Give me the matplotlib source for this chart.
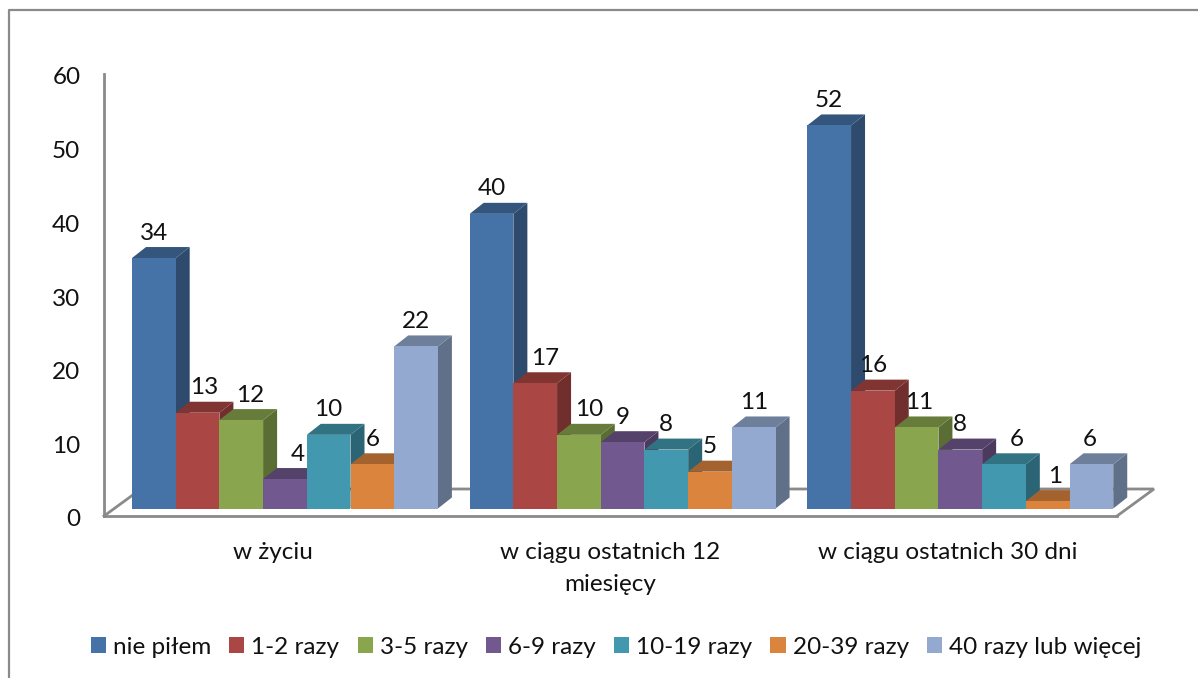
import numpy as np
import matplotlib
matplotlib.use('Agg')
import matplotlib.pyplot as plt
from matplotlib.patches import Patch, Polygon
from matplotlib.lines import Line2D
from matplotlib.colors import to_rgb
from matplotlib.transforms import ScaledTranslation

plt.rcParams['font.family'] = ['Lato', 'DejaVu Sans']

categories = ['w życiu', 'w ciągu ostatnich 12\nmiesięcy', 'w ciągu ostatnich 30 dni']
series_names = ['nie piłem', '1-2 razy', '3-5 razy', '6-9 razy', '10-19 razy', '20-39 razy', '40 razy lub więcej']
values = [
    [34, 13, 12, 4, 10, 6, 22],
    [40, 17, 10, 9, 8, 5, 11],
    [52, 16, 11, 8, 6, 1, 6],
]
y_ticks = [0, 10, 20, 30, 40, 50, 60]
colors = ['#4572A7', '#AA4643', '#89A54E', '#71588F', '#4198AF', '#DB843D', '#93A9CF']

W, H = 1198, 678
AX_L, AX_R, AX_T, AX_B = 104, 1117, 74, 516
GRAY = '#8a8a8a'
FS = 17.5

# pixels per data unit
px_x = (AX_R - AX_L) / 3
px_y = (AX_B - AX_T) / 60

bar_w = 43.7 / px_x
bar_start = 28 / px_x   # front face of the first bar, from the category edge
bar_base = 7.5 / px_y   # front face sits a little behind the axis line
top_dx, top_dy = 14 / px_x, 11 / px_y
floor_dx, floor_dy = 37 / px_x, 27 / px_y

# sideways shift of some value labels, px (labels dodge the neighbouring bar)
label_nudge = [
    [0, 7, 9, 13, 0, 0, 0],
    [0, 10, 10, 0, 0, 0, 0],
    [0, 0, 3, 0, 13, 7, -2],
]


def shade(color, f):
    return tuple(c * f for c in to_rgb(color))


fig = plt.figure(figsize=(W / 100, H / 100), dpi=100)
ax = fig.add_axes([AX_L / W, 1 - AX_B / H, (AX_R - AX_L) / W, (AX_B - AX_T) / H])
ax.set_xlim(0, 3)
ax.set_ylim(0, 60)

# outer chart border, only top and left fall inside the picture
fig.add_artist(Line2D([9 / W, 9 / W, 1], [0, 1 - 10 / H, 1 - 10 / H], transform=fig.transFigure,
                      color=GRAY, linewidth=1.6))

for s in ['top', 'right']:
    ax.spines[s].set_visible(False)
for s in ['left', 'bottom']:
    ax.spines[s].set_color(GRAY)
    ax.spines[s].set_linewidth(2)

# back edges of the floor
ax.plot([0, floor_dx, 3 + floor_dx, 3], [0, floor_dy, floor_dy, 0], color=GRAY, lw=2,
        clip_on=False, zorder=1, solid_joinstyle='miter')

z = 2
for i, group in enumerate(values):
    for j, v in enumerate(group):
        x0 = i + bar_start + j * bar_w
        x1 = x0 + bar_w
        y0 = bar_base
        y1 = bar_base + v
        c = colors[j]
        # side and top faces first, front on top of them
        ax.add_patch(Polygon([(x1, y0), (x1 + top_dx, y0 + top_dy), (x1 + top_dx, y1 + top_dy), (x1, y1)],
                             facecolor=shade(c, 0.66), edgecolor='none', clip_on=False, zorder=z))
        ax.add_patch(Polygon([(x0, y1), (x1, y1), (x1 + top_dx, y1 + top_dy), (x0 + top_dx, y1 + top_dy)],
                             facecolor=shade(c, 0.75), edgecolor='none', clip_on=False, zorder=z))
        ax.bar(x0, v, width=bar_w, bottom=y0, align='edge', color=c, linewidth=0, clip_on=False, zorder=z + 1)
        ax.text(x0 + bar_w / 2 + label_nudge[i][j] / px_x, y1 + 25 / px_y, str(v), ha='center', va='center',
                fontsize=FS, color='#111111', zorder=50)
        z += 2

ax.set_yticks(y_ticks)
ax.set_xticks(np.arange(3) + 0.5)
ax.set_xticklabels(categories, fontsize=FS, color='#111111', linespacing=1.65)
ax.tick_params(axis='x', length=0, pad=19)
ax.tick_params(axis='y', length=0, pad=17, labelsize=FS, labelcolor='#111111')

# y labels sit slightly under their gridline position
down = ScaledTranslation(0, -2 / 100, fig.dpi_scale_trans)
for lab in ax.get_yticklabels():
    lab.set_transform(lab.get_transform() + down)

handles = [Patch(facecolor=c, edgecolor='none') for c in colors]
ax.legend(handles, series_names, loc='center', bbox_to_anchor=(616 / W, 1 - 647 / H), bbox_transform=fig.transFigure,
          ncol=7, frameon=False, fontsize=FS, handlelength=0.62, handleheight=0.62, handletextpad=0.29,
          columnspacing=0.75, borderpad=0, borderaxespad=0, labelcolor='#111111')

fig.savefig('out.png', dpi=100)
